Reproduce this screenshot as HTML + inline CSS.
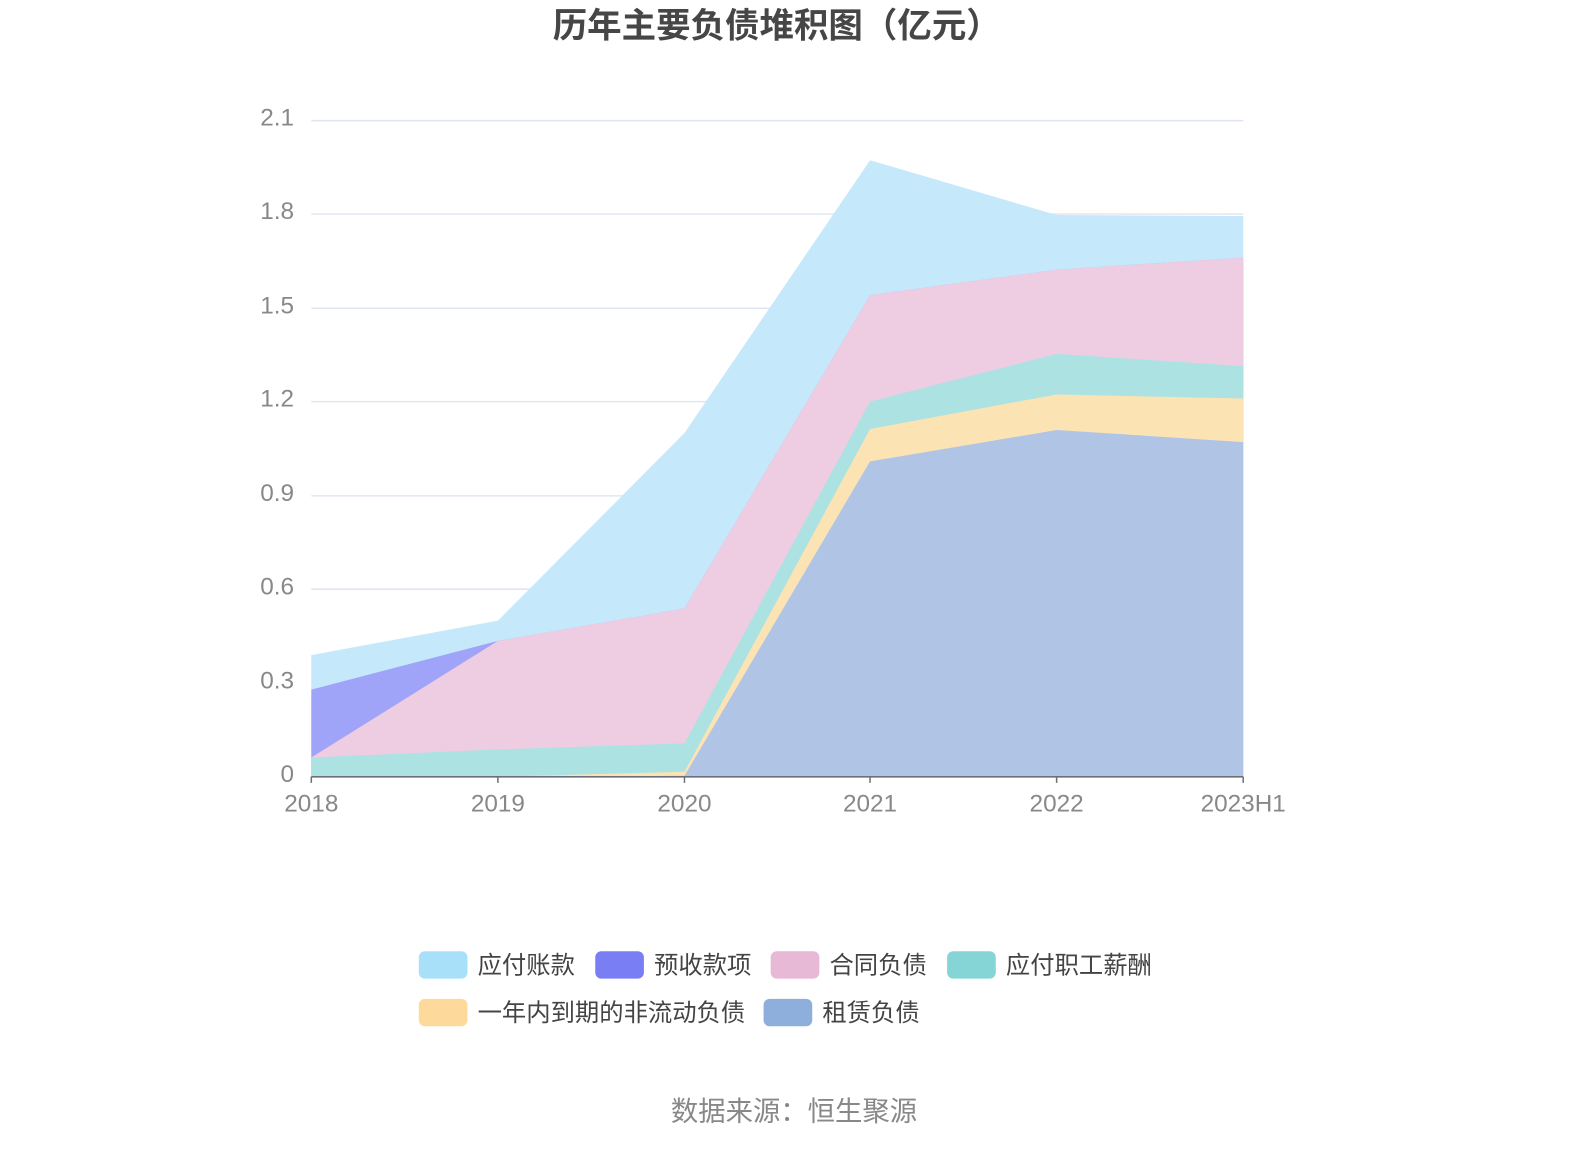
<!DOCTYPE html>
<html><head><meta charset="utf-8"><style>
html,body{margin:0;padding:0;background:#fff;width:1590px;height:1150px;overflow:hidden}
svg{display:block}
text{font-family:"Liberation Sans","Noto Sans CJK SC",sans-serif}
</style></head><body>
<svg width="1590" height="1150" viewBox="0 0 1568 1134" preserveAspectRatio="none" xmlns="http://www.w3.org/2000/svg">
<text x="766" y="37" text-anchor="middle" font-size="34" font-weight="bold" fill="#464646">历年主要负债堆积图（亿元）</text>
<g stroke="#e0e6f1" stroke-width="1.5">
<line x1="307" x2="1226" y1="119" y2="119"/><line x1="307" x2="1226" y1="211" y2="211"/>
<line x1="307" x2="1226" y1="304" y2="304"/><line x1="307" x2="1226" y1="396" y2="396"/>
<line x1="307" x2="1226" y1="489" y2="489"/><line x1="307" x2="1226" y1="581" y2="581"/>
<line x1="307" x2="1226" y1="674" y2="674"/>
</g>
<g font-size="24" fill="#888" text-anchor="end">
<text x="290" y="124">2.1</text><text x="290" y="216">1.8</text><text x="290" y="309">1.5</text>
<text x="290" y="401">1.2</text><text x="290" y="494">0.9</text><text x="290" y="586">0.6</text>
<text x="290" y="679">0.3</text><text x="290" y="771">0</text>
</g>
<g>
<polygon fill="#c5e9fb" points="307,646 491,612 675,427 858,158 1042,212 1226,213 1226,766 307,766"/>
<polygon fill="#a0a4f8" points="307,680 491,632 675,600 858,291 1042,266 1226,254 1226,766 307,766"/>
<polygon fill="#eecde2" points="307,747 491,632 675,600 858,291 1042,266 1226,254 1226,766 307,766"/>
<polygon fill="#ade2e2" points="307,747 491,739 675,733 858,396 1042,349 1226,361 1226,766 307,766"/>
<polygon fill="#fce3b4" points="307,766 491,766 675,761 858,423 1042,389 1226,393 1226,766 307,766"/>
<polygon fill="#b0c5e5" points="307,766 491,766 675,765 858,455 1042,424 1226,436 1226,766 307,766"/>
</g>
<g stroke="#6e7079" stroke-width="1.5">
<line x1="307" x2="1226" y1="766" y2="766"/>
<line x1="307" x2="307" y1="766" y2="772"/><line x1="491" x2="491" y1="766" y2="772"/>
<line x1="675" x2="675" y1="766" y2="772"/><line x1="858" x2="858" y1="766" y2="772"/>
<line x1="1042" x2="1042" y1="766" y2="772"/><line x1="1226" x2="1226" y1="766" y2="772"/>
</g>
<g font-size="24" fill="#888" text-anchor="middle">
<text x="307" y="800">2018</text><text x="491" y="800">2019</text><text x="675" y="800">2020</text>
<text x="858" y="800">2021</text><text x="1042" y="800">2022</text><text x="1226" y="800">2023H1</text>
</g>
<g font-size="24" fill="#444">
<rect x="413" y="938" width="48" height="27" rx="6" fill="#a8e0fa"/><text x="471" y="960">应付账款</text>
<rect x="587" y="938" width="48" height="27" rx="6" fill="#7a7ef5"/><text x="645" y="960">预收款项</text>
<rect x="760" y="938" width="48" height="27" rx="6" fill="#e8b8d7"/><text x="818" y="960">合同负债</text>
<rect x="934" y="938" width="48" height="27" rx="6" fill="#85d5d7"/><text x="992" y="960">应付职工薪酬</text>
<rect x="413" y="985" width="48" height="27" rx="6" fill="#fdd99c"/><text x="471" y="1007">一年内到期的非流动负债</text>
<rect x="753" y="985" width="48" height="27" rx="6" fill="#8eaedb"/><text x="811" y="1007">租赁负债</text>
</g>
<text x="783" y="1105" text-anchor="middle" font-size="27" fill="#888">数据来源：恒生聚源</text>
</svg>
</body></html>
